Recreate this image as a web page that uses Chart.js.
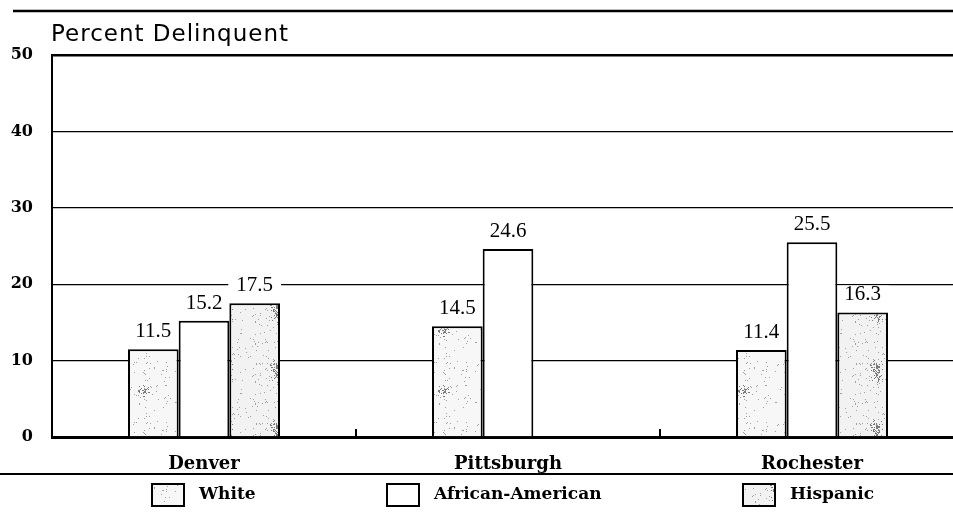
<!DOCTYPE html>
<html lang="en">
<head>
    <meta charset="UTF-8">
    <title>Percent Delinquent</title>
    <script src="https://cdn.jsdelivr.net/npm/chart.js"></script>
    <style>
        body { margin: 0; background: #fff; overflow: hidden; }
        #wrap { width: 953px; height: 514px; overflow: hidden; }
    </style>
</head>
<body>
    <!-- canvas runs a little past the right edge: the plot is cut off there in the original -->
    <div id="wrap"><canvas id="chart" width="964" height="514"></canvas></div>

    <script>
        // data
        const cities = ['Denver', 'Pittsburgh', 'Rochester'];
        const groups = ['White', 'African-American', 'Hispanic'];
        const white = [11.5, 14.5, 11.4];
        const african = [15.2, 24.6, 25.5];
        const hispanic = [17.5, null, 16.3];
        const yTicks = [0, 10, 20, 30, 40, 50];

        // speckled gray fill like the scanned print
        function stipple(seed, base, dots, clusters) {
            const c = document.createElement('canvas');
            c.width = 50; c.height = 60;
            const g = c.getContext('2d');
            g.fillStyle = base;
            g.fillRect(0, 0, c.width, c.height);
            let s = seed;
            const rnd = () => { s = (s * 16807) % 2147483647; return s / 2147483647; };
            g.fillStyle = '#a0a0a0';
            for (let i = 0; i < dots; i++) g.fillRect(Math.floor(rnd() * 50), Math.floor(rnd() * 60), 1, 1);
            g.fillStyle = '#7a7a7a';
            for (let k = 0; k < clusters; k++) {
                const cx = rnd() * 50, cy = rnd() * 60;
                for (let i = 0; i < 45; i++) {
                    const a = rnd() * 6.28, r = rnd() * 7;
                    g.fillRect(Math.floor(cx + Math.cos(a) * r), Math.floor(cy + Math.sin(a) * r), 1, 1);
                }
            }
            return document.getElementById('chart').getContext('2d').createPattern(c, 'repeat');
        }

        const whiteFill = stipple(12345, '#f7f7f7', 70, 1);
        const hispFill = stipple(67891, '#f2f2f2', 90, 2);
        const fills = [whiteFill, '#ffffff', hispFill];

        const serif = 'DejaVu Serif';
        const pageW = 953;

        const decorations = {
            id: 'decorations',
            afterDraw(chart) {
                const ctx = chart.ctx;
                const area = chart.chartArea;
                const x = chart.scales.x;
                ctx.save();
                ctx.strokeStyle = '#000';
                // top rule
                ctx.lineWidth = 2.5;
                ctx.beginPath(); ctx.moveTo(13, 11); ctx.lineTo(pageW, 11); ctx.stroke();
                // rule above legend
                ctx.lineWidth = 2;
                ctx.beginPath(); ctx.moveTo(0, 474); ctx.lineTo(pageW, 474); ctx.stroke();
                // small ticks between cities, above the baseline
                ctx.lineWidth = 2;
                for (let i = 0; i < cities.length - 1; i++) {
                    const px = (x.getPixelForValue(i) + x.getPixelForValue(i + 1)) / 2;
                    ctx.beginPath(); ctx.moveTo(px, area.bottom); ctx.lineTo(px, area.bottom - 8); ctx.stroke();
                }
                // title
                ctx.fillStyle = '#000';
                ctx.font = '23px "DejaVu Sans"';
                ctx.letterSpacing = '1px';
                ctx.textAlign = 'left';
                ctx.textBaseline = 'alphabetic';
                ctx.fillText('Percent Delinquent', area.left - 1, 41);
                ctx.letterSpacing = '0px';
                // legend
                const boxX = [152, 387, 743];
                ctx.font = 'bold 17px "' + serif + '"';
                ctx.textBaseline = 'middle';
                chart.data.datasets.forEach((ds, i) => {
                    ctx.fillStyle = ds.backgroundColor;
                    ctx.fillRect(boxX[i], 484, 32, 22);
                    ctx.lineWidth = 2;
                    ctx.strokeRect(boxX[i], 484, 32, 22);
                    ctx.fillStyle = '#000';
                    ctx.fillText(ds.label, boxX[i] + 47, 495);
                });
                ctx.restore();
            }
        };

        // drawn before the bars so the white patch only breaks the grid lines
        const valueLabels = {
            id: 'valueLabels',
            beforeDatasetsDraw(chart) {
                const ctx = chart.ctx;
                ctx.save();
                ctx.font = '21px "Liberation Serif"';
                ctx.textAlign = 'center';
                ctx.textBaseline = 'alphabetic';
                chart.data.datasets.forEach((ds, i) => {
                    chart.getDatasetMeta(i).data.forEach((bar, j) => {
                        const v = ds.data[j];
                        if (v === null) return;
                        const txt = v.toFixed(1);
                        const w = ctx.measureText(txt).width;
                        const base = bar.y - 12;
                        ctx.fillStyle = '#fff';
                        ctx.fillRect(bar.x - w / 2 - 8, base - 15, w + 16, 16);
                        ctx.fillStyle = '#000';
                        ctx.fillText(txt, bar.x, base);
                    });
                });
                ctx.restore();
            }
        };

        new Chart(document.getElementById('chart'), {
            type: 'bar',
            data: {
                labels: cities,
                datasets: [white, african, hispanic].map((d, i) => ({
                    label: groups[i],
                    data: d,
                    backgroundColor: fills[i],
                    borderColor: '#000',
                    borderWidth: 2,
                    borderSkipped: 'bottom',
                    categoryPercentage: 0.5,
                    barPercentage: 1.0
                }))
            },
            options: {
                responsive: false,
                animation: false,
                layout: { padding: { top: 55, left: 0, right: 0, bottom: 0 } },
                plugins: {
                    legend: { display: false },
                    title: { display: false },
                    tooltip: { enabled: false }
                },
                scales: {
                    x: {
                        grid: { display: false },
                        border: { display: true, color: '#000', width: 3 },
                        ticks: {
                            color: '#000',
                            padding: 9,
                            font: { family: serif, weight: 'bold', size: 18 }
                        },
                        afterFit: s => { s.height = 77; }
                    },
                    y: {
                        min: 0,
                        max: 50,
                        afterBuildTicks: s => { s.ticks = yTicks.map(v => ({ value: v })); },
                        grid: {
                            color: '#000',
                            drawTicks: false,
                            lineWidth: c => (c.tick.value === 50 ? 2.5 : 1.3)
                        },
                        border: { display: true, color: '#000', width: 2 },
                        ticks: {
                            color: '#000',
                            padding: 19,
                            font: { family: serif, weight: 'bold', size: 16 }
                        },
                        afterFit: s => { s.width = 52; }
                    }
                }
            },
            plugins: [valueLabels, decorations]
        });
    </script>
</body>
</html>
